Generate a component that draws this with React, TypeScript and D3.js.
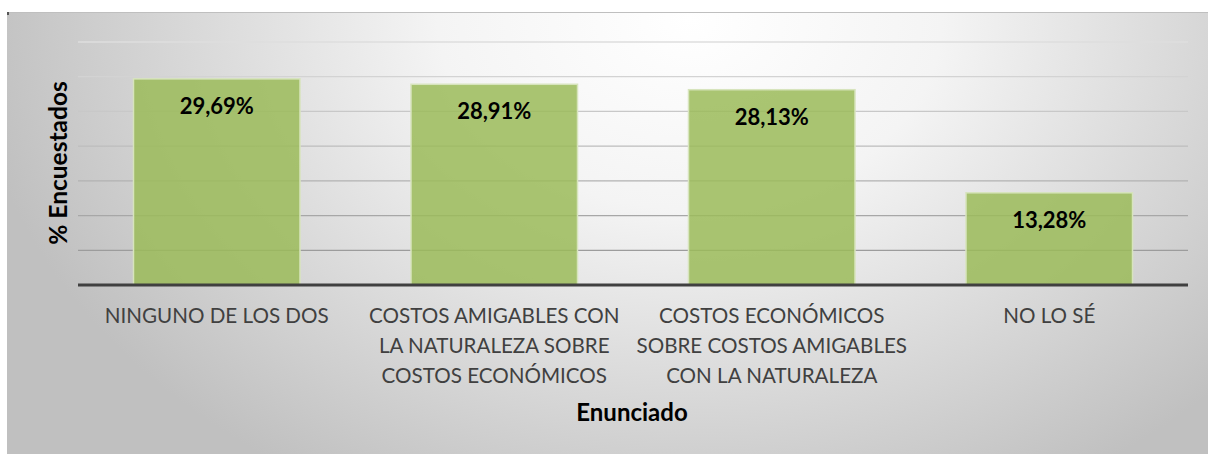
import React from "react";
import * as d3 from "d3";

const categories: string[][] = [
  ["NINGUNO DE LOS DOS"],
  ["COSTOS AMIGABLES CON", "LA NATURALEZA SOBRE", "COSTOS ECONÓMICOS"],
  ["COSTOS ECONÓMICOS", "SOBRE COSTOS AMIGABLES", "CON LA NATURALEZA"],
  ["NO LO SÉ"],
];
const values: number[] = [29.69, 28.91, 28.13, 13.28];
const valueLabels: string[] = ["29,69%", "28,91%", "28,13%", "13,28%"];
const gridTicks: number[] = [5, 10, 15, 20, 25, 30, 35];
const xTitle = "Enunciado";
const yTitle = "% Encuestados";

export default function App() {
  const W = 1208;
  const H = 454;
  const left = 78;
  const right = 1188;
  const top = 42;
  const bottom = 285;
  const x = d3
    .scaleBand<number>()
    .domain(d3.range(values.length))
    .range([left, right])
    .paddingInner(0.4)
    .paddingOuter(0.2);
  const y = d3.scaleLinear().domain([0, 35]).range([bottom, top]);
  const gridColor = d3.interpolateRgb("#9c9c9c", "#dedede");
  const font = "Lato, 'Open Sans', sans-serif";

  return (
    <svg
      width={W}
      height={H}
      style={{ position: "absolute", left: 0, top: 0 }}
      fontFamily={font}
    >
      <defs>
        <radialGradient
          id="bg"
          gradientUnits="userSpaceOnUse"
          cx={690}
          cy={20}
          r={720}
          gradientTransform="translate(690 20) scale(1 0.75) translate(-690 -20)"
        >
          <stop offset="0" stopColor="#ffffff" />
          <stop offset="0.35" stopColor="#f4f4f4" />
          <stop offset="1" stopColor="#c0c0c0" />
        </radialGradient>
      </defs>
      <rect x={0} y={0} width={W} height={H} fill="#ffffff" />
      <rect x={7} y={12} width={W - 7} height={H - 12} fill="url(#bg)" />
      <line x1={7} x2={W} y1={12.5} y2={12.5} stroke="#bfbfbf" strokeWidth={1} />
      <rect x={7} y={12} width={2} height={3} fill="#555" />

      {gridTicks.map((t, i) => (
        <line
          key={t}
          x1={left}
          x2={right}
          y1={y(t)}
          y2={y(t)}
          stroke={gridColor(i / (gridTicks.length - 1))}
          strokeWidth={1.3}
        />
      ))}

      {values.map((v, i) => (
        <rect
          key={i}
          x={x(i)!}
          y={y(v)}
          width={x.bandwidth()}
          height={bottom - y(v)}
          fill="#9bbb59"
          fillOpacity={0.85}
          stroke="#d7e4bd"
          strokeWidth={1.5}
        />
      ))}

      <line x1={left} x2={right} y1={bottom} y2={bottom} stroke="#404040" strokeWidth={3} />

      {values.map((v, i) => (
        <text
          key={i}
          x={x(i)! + x.bandwidth() / 2}
          y={y(v) + 35}
          textAnchor="middle"
          fontWeight="bold"
          fontSize={22}
          fill="#000"
        >
          {valueLabels[i]}
        </text>
      ))}

      {categories.map((lines, i) => (
        <text
          key={i}
          x={x(i)! + x.bandwidth() / 2}
          textAnchor="middle"
          fontSize={20.6}
          fill="#404040"
        >
          {lines.map((l, j) => (
            <tspan key={j} x={x(i)! + x.bandwidth() / 2} y={323 + j * 29.8}>
              {l}
            </tspan>
          ))}
        </text>
      ))}

      <text
        x={632}
        y={421}
        textAnchor="middle"
        fontWeight="bold"
        fontSize={24}
        fill="#000"
      >
        {xTitle}
      </text>
      <text
        transform={`translate(67, 163) rotate(-90)`}
        textAnchor="middle"
        fontWeight="bold"
        fontSize={24.5}
        fill="#000"
      >
        {yTitle}
      </text>
    </svg>
  );
}
